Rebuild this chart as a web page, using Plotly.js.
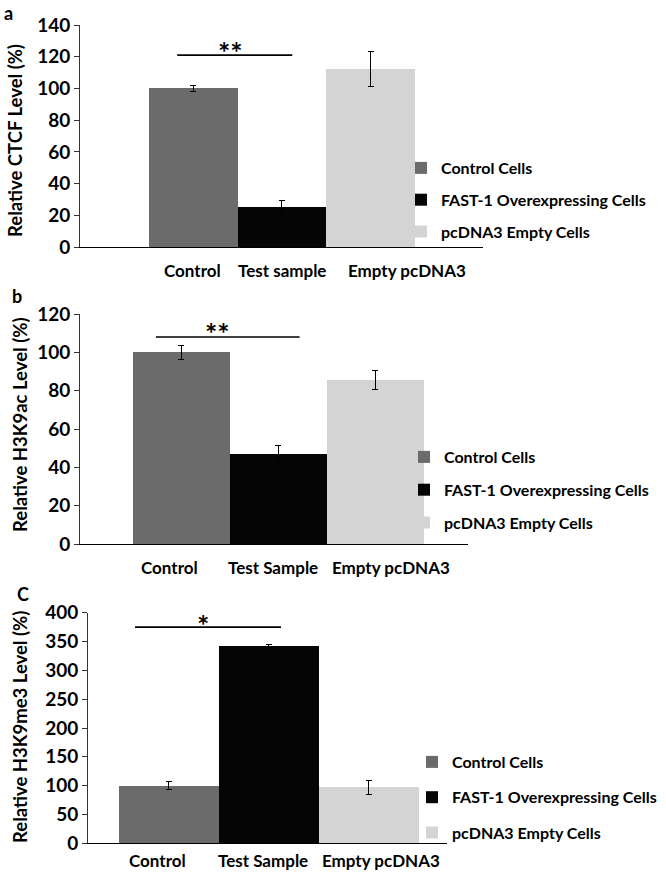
<!DOCTYPE html>
<html><head><meta charset="utf-8">
<script src="https://cdn.plot.ly/plotly-3.0.1.min.js"></script>
<style>html,body{margin:0;padding:0;background:#fff}#chart{width:666px;height:878px}</style>
</head><body><div id="chart"></div>
<script>
// ---- data ----
const seriesNames = ["Control Cells", "FAST-1 Overexpressing Cells", "pcDNA3 Empty Cells"];
const catsA = ["Control", "Test sample", "Empty pcDNA3"];
const catsB = ["Control", "Test Sample", "Empty pcDNA3"];
const catsC = ["Control", "Test Sample", "Empty pcDNA3"];
const valuesA = [100, 25, 112];
const errorsA = [1.8, 4.2, 11];
const valuesB = [100, 47, 85.5];
const errorsB = [3.7, 4.5, 4.8];
const valuesC = [100, 342, 97];
const errorsC = [7, 3, 12.5];
const yTitles = ["Relative CTCF Level (%)", "Relative H3K9ac Level (%)", "Relative H3K9me3 Level (%)"];
const panelLabels = ["a", "b", "C"];
const sigLabels = ["**", "**", "*"];

// ---- styling / layout ----
const W = 666, H = 878;
const FONT = "Lato, 'Open Sans', sans-serif";
const colors = ["#6b6b6b", "#050505", "#d4d4d4"];
const px = v => v / W, py = v => 1 - v / H;

const panels = [
  {cats: catsA, vals: valuesA, errs: errorsA, yMax: 140, dtick: 20,
   xl: 80, xr: 483, yTop: 25, yBot: 247, xrange: [-1.274, 3.263],
   legX: 401, legY: 151, legGap: 8,
   labShift: [-1, 0, 36], labY: 23, titleX: 15, titleY: 141, panX: 8, panY: 0,
   sig: {x0: -0.18, x1: 1.116, y: 121, tx: 0.42, ty: 123}},
  {cats: catsB, vals: valuesB, errs: errorsB, yMax: 120, dtick: 20,
   xl: 80, xr: 468, yTop: 314, yBot: 544, xrange: [-1.041, 2.954],
   legX: 404, legY: 440, legGap: 9,
   labShift: [-12, -5, 16], labY: 23, titleX: 20, titleY: 425, panX: 17, panY: 296,
   sig: {x0: -0.26, x1: 1.22, y: 108, tx: 0.37, ty: 110.6}},
  {cats: catsC, vals: valuesC, errs: errorsC, yMax: 400, dtick: 50,
   xl: 88, xr: 447, yTop: 612.7, yBot: 843.3, xrange: [-0.805, 2.785],
   legX: 412, legY: 745, legGap: 11.5,
   labShift: [-11, -6, 12], labY: 17, titleX: 20, titleY: 727, panX: 23, panY: 594,
   sig: {x0: -0.335, x1: 1.125, y: 375, tx: 0.345, ty: 380}}
];

const data = [];
const layout = {
  width: W, height: H,
  margin: {l: 0, r: 0, t: 0, b: 0},
  paper_bgcolor: "#fff", plot_bgcolor: "rgba(0,0,0,0)",
  barmode: "overlay", bargap: 0,
  font: {family: FONT, color: "#000"},
  annotations: [], shapes: []
};

panels.forEach((p, k) => {
  const sfx = k === 0 ? "" : String(k + 1);
  const legId = "legend" + sfx;
  for (let i = 0; i < 3; i++) {
    data.push({
      type: "bar", x: [p.cats[i]], y: [p.vals[i]], width: 1,
      name: seriesNames[i], legend: legId, legendgroup: "g" + k + "_" + i,
      marker: {color: colors[i], line: {width: 0}},
      error_y: {type: "data", array: [p.errs[i]], visible: true, color: "#000", thickness: 1, width: 3},
      xaxis: "x" + sfx, yaxis: "y" + sfx, hoverinfo: "skip"
    });
  }
  layout["xaxis" + sfx] = {
    domain: [px(p.xl), px(p.xr)], anchor: "y" + sfx, type: "category",
    categoryorder: "array", categoryarray: p.cats, range: p.xrange,
    showticklabels: false, ticks: "", showgrid: false, zeroline: false,
    showline: true, linecolor: "#000", linewidth: 1, fixedrange: true
  };
  layout["yaxis" + sfx] = {
    domain: [py(p.yBot), py(p.yTop)], anchor: "x" + sfx, range: [0, p.yMax],
    dtick: p.dtick, tick0: 0, ticks: "outside", ticklen: 5, tickcolor: "#333", tickwidth: 1,
    showline: true, linecolor: "#333", linewidth: 1, showgrid: false, zeroline: false,
    tickfont: {family: FONT, size: 19, color: "#000", weight: "bold"}, fixedrange: true
  };
  layout[legId] = {
    x: px(p.legX), y: py(p.legY), xanchor: "left", yanchor: "top",
    traceorder: "grouped", tracegroupgap: p.legGap, bgcolor: "rgba(0,0,0,0)",
    font: {family: FONT, size: 16, color: "#000", weight: "bold"}, itemclick: false
  };
  // end ticks of category axis
  [0, 1].forEach(e => layout.shapes.push({
    type: "line", xref: "x" + sfx + " domain", yref: "y" + sfx, x0: e, x1: e,
    y0: 0, y1: -p.yMax * 6 / (p.yBot - p.yTop), line: {color: "#333", width: 1}
  }));
  // significance bar
  layout.shapes.push({
    type: "line", xref: "x" + sfx, yref: "y" + sfx, x0: p.sig.x0, x1: p.sig.x1,
    y0: p.sig.y, y1: p.sig.y, line: {color: "#000", width: 1.6}
  });
  layout.annotations.push({
    xref: "x" + sfx, yref: "y" + sfx, x: p.sig.tx, y: p.sig.ty, text: sigLabels[k],
    showarrow: false, font: {family: FONT, size: 29, color: "#000", weight: "bold"},
    xanchor: "center", yanchor: "middle"
  });
  // category labels
  p.cats.forEach((c, i) => layout.annotations.push({
    xref: "x" + sfx, yref: "y" + sfx, x: c, y: 0, yshift: -p.labY, xshift: p.labShift[i],
    text: c, showarrow: false, xanchor: "center", yanchor: "middle",
    font: {family: FONT, size: 17, color: "#000", weight: "bold"}
  }));
  // y title
  layout.annotations.push({
    xref: "paper", yref: "paper", x: px(p.titleX), y: py(p.titleY), text: yTitles[k],
    textangle: -90, showarrow: false, xanchor: "center", yanchor: "middle",
    font: {family: FONT, size: 18.5, color: "#000", weight: "bold"}
  });
  // panel letter
  layout.annotations.push({
    xref: "paper", yref: "paper", x: px(p.panX), y: py(p.panY), text: panelLabels[k],
    showarrow: false, xanchor: "center", yanchor: k === 0 ? "top" : "middle",
    font: {family: FONT, size: 18, color: "#000", weight: "bold"}
  });
});

Plotly.newPlot("chart", data, layout, {staticPlot: true, displayModeBar: false});
</script></body></html>
